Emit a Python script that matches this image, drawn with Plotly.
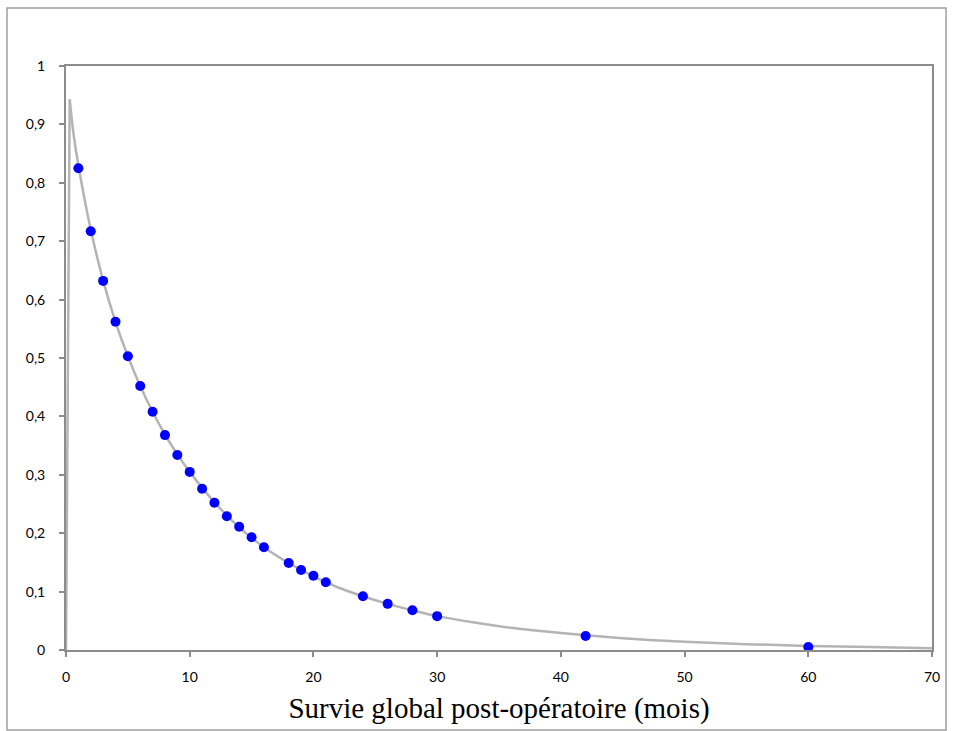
import plotly.graph_objects as go

# Observed post-operative overall survival (months, fraction surviving)
months = [1, 2, 3, 4, 5, 6, 7, 8, 9, 10, 11, 12, 13, 14, 15, 16,
          18, 19, 20, 21, 24, 26, 28, 30, 42, 60]
survival = [0.825, 0.717, 0.632, 0.562, 0.503, 0.452, 0.408, 0.368, 0.334,
            0.305, 0.276, 0.252, 0.229, 0.211, 0.193, 0.176, 0.149, 0.137,
            0.127, 0.116, 0.092, 0.079, 0.068, 0.058, 0.024, 0.005]

# Fitted survival curve
curve_x = [0, 0.3, 0.6, 1, 2, 3, 4, 5, 6, 7, 8, 9, 10, 12, 14, 16, 18, 20,
           22, 24, 26, 28, 30, 33, 36, 40, 45, 50, 55, 60, 65, 70]
curve_y = [0.0, 0.943, 0.885, 0.83, 0.72, 0.633, 0.562, 0.503, 0.452, 0.408,
           0.369, 0.335, 0.305, 0.253, 0.210, 0.176, 0.149, 0.126, 0.107,
           0.092, 0.079, 0.068, 0.058, 0.047, 0.038, 0.029, 0.020, 0.014,
           0.010, 0.007, 0.005, 0.003]

x_ticks = [0, 10, 20, 30, 40, 50, 60, 70]
y_ticks = [0, 0.1, 0.2, 0.3, 0.4, 0.5, 0.6, 0.7, 0.8, 0.9, 1]

curve_color = "#B4B4B4"
axis_color = "#8C8C8C"

fig = go.Figure()

# steep rise from the origin
fig.add_trace(go.Scatter(
    x=curve_x[:2], y=curve_y[:2], mode="lines",
    line=dict(color=curve_color, width=2.5), showlegend=False,
    hoverinfo="skip",
))
# smooth decay
fig.add_trace(go.Scatter(
    x=curve_x[1:], y=curve_y[1:], mode="lines",
    line=dict(color=curve_color, width=2.5, shape="spline", smoothing=0.6),
    showlegend=False, hoverinfo="skip",
))
fig.add_trace(go.Scatter(
    x=months, y=survival, mode="markers",
    marker=dict(color="#0000FF", size=10, line=dict(width=0)),
    showlegend=False,
))

tick_font = dict(family="Lato, Carlito, sans-serif", size=14, color="#000000")

fig.update_layout(
    width=954, height=731,
    margin=dict(l=66, r=22, t=66, b=81),
    paper_bgcolor="white", plot_bgcolor="white",
    separators=", ",
    xaxis=dict(
        range=[0, 70], tickmode="array", tickvals=x_ticks,
        showgrid=False, zeroline=False,
        showline=True, linecolor=axis_color, linewidth=2, mirror=True,
        ticks="outside", ticklen=5, tickwidth=1.5, tickcolor=axis_color,
        tickfont=tick_font, ticklabelstandoff=8,
        title=dict(text="Survie global post-opératoire (mois)",
                   font=dict(family="Liberation Serif, Times New Roman, serif",
                             size=29, color="#000000"),
                   standoff=14),
    ),
    yaxis=dict(
        range=[0, 1], tickmode="array", tickvals=y_ticks,
        showgrid=False, zeroline=False,
        showline=True, linecolor=axis_color, linewidth=2, mirror=True,
        ticks="outside", ticklen=5, tickwidth=1.5, tickcolor=axis_color,
        tickfont=tick_font, ticklabelstandoff=11,
    ),
    shapes=[dict(
        type="rect", xref="paper", yref="paper",
        x0=(7 - 66) / 866, x1=(946 - 66) / 866,
        y0=(650 - 730) / 584, y1=(650 - 8) / 584,
        line=dict(color="#A0A0A0", width=1.5), fillcolor="rgba(0,0,0,0)",
        layer="below",
    )],
)

fig.write_html("out.html")
